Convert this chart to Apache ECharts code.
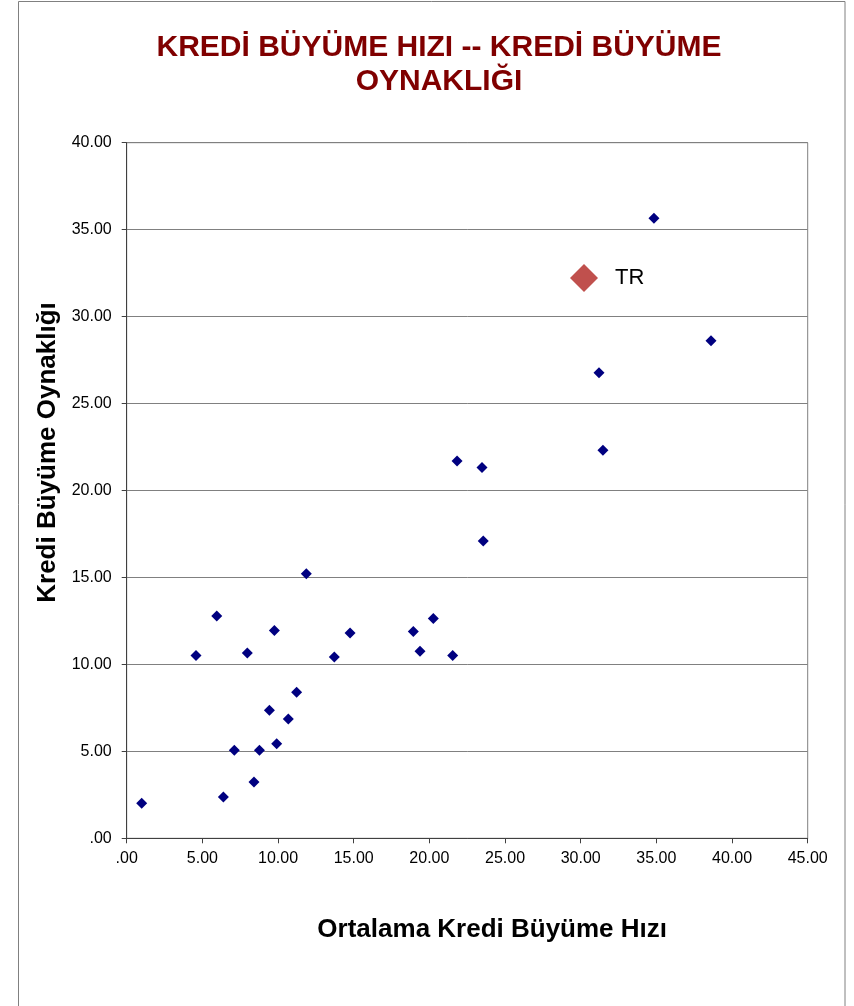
<!DOCTYPE html>
<html>
<head>
<meta charset="utf-8">
<script src="https://cdn.jsdelivr.net/npm/echarts@6/dist/echarts.min.js"></script>
<style>
  html, body { margin: 0; padding: 0; background: #ffffff; }
  #chart { width: 854px; height: 1006px; }
</style>
</head>
<body>
<div id="chart"></div>
<script>
// ---- data ----
const titleText = 'KREDİ BÜYÜME HIZI -- KREDİ BÜYÜME\nOYNAKLIĞI';
const xAxisTitle = 'Ortalama Kredi Büyüme Hızı';
const yAxisTitle = 'Kredi Büyüme Oynaklığı';
const xTickLabels = ['.00', '5.00', '10.00', '15.00', '20.00', '25.00', '30.00', '35.00', '40.00', '45.00'];
const yTickLabels = ['.00', '5.00', '10.00', '15.00', '20.00', '25.00', '30.00', '35.00', '40.00'];

const countryX = [0.99, 4.58, 5.95, 6.39, 7.11, 7.97, 8.41, 8.77, 9.43, 9.76, 9.91, 10.68, 11.23, 11.87,
                  13.72, 14.76, 18.94, 19.38, 20.26, 21.54, 21.83, 23.48, 23.56, 31.21, 31.47, 34.84, 38.61];
const countryY = [2.01, 10.51, 12.79, 2.38, 5.06, 10.66, 3.24, 5.06, 7.36, 11.95, 5.44, 6.86, 8.40, 15.21,
                  10.43, 11.81, 11.89, 10.76, 12.64, 10.51, 21.69, 21.32, 17.09, 26.77, 22.32, 35.65, 28.61];

const trName = 'TR';
const trX = [30.22];
const trY = [32.22];

const countryData = countryX.map((x, i) => [x, countryY[i]]);
const trData = trX.map((x, i) => [x, trY[i], trName]);

const FONT = '"Liberation Sans", Arial, Helvetica, sans-serif';

const chart = echarts.init(document.getElementById('chart'), null, { renderer: 'canvas' });
chart.setOption({
  animation: false,
  backgroundColor: '#ffffff',
  title: {
    text: titleText,
    left: 439,
    top: 31,
    padding: 0,
    textAlign: 'center',
    textStyle: {
      fontFamily: FONT,
      fontSize: 30,
      fontWeight: 'bold',
      color: '#800000',
      lineHeight: 34
    }
  },
  graphic: [
    {
      type: 'rect',
      silent: true,
      z: -10,
      shape: { x: 18.5, y: 1.5, width: 826.5, height: 1020 },
      style: { fill: null, stroke: '#808080', lineWidth: 1 }
    }
  ],
  grid: {
    left: 126.7,
    right: 46.3,
    top: 142.7,
    bottom: 167.7,
    outerBoundsMode: 'none',
    containLabel: false,
    show: true,
    borderColor: '#808080',
    borderWidth: 1,
    backgroundColor: 'transparent'
  },
  xAxis: {
    type: 'value',
    min: 0,
    max: 45,
    interval: 5,
    name: xAxisTitle,
    nameLocation: 'middle',
    nameGap: 79,
    nameTextStyle: {
      fontFamily: FONT,
      fontSize: 26,
      fontWeight: 'bold',
      color: '#000000',
      padding: [0, 0, 0, 50]
    },
    axisLine: { show: true, lineStyle: { color: '#404040', width: 1 } },
    axisTick: { show: true, inside: false, length: 5, lineStyle: { color: '#404040' } },
    axisLabel: {
      margin: 12,
      fontFamily: FONT,
      fontSize: 16,
      color: '#000000',
      formatter: (v) => xTickLabels[Math.round(v / 5)]
    },
    splitLine: { show: false }
  },
  yAxis: {
    type: 'value',
    min: 0,
    max: 40,
    interval: 5,
    name: yAxisTitle,
    nameLocation: 'middle',
    nameGap: 49,
    nameRotate: 90,
    nameTextStyle: {
      fontFamily: FONT,
      fontSize: 26,
      fontWeight: 'bold',
      color: '#000000',
      padding: [0, 0, 0, 76]
    },
    axisLine: { show: true, lineStyle: { color: '#404040', width: 1 } },
    axisTick: { show: true, inside: false, length: 5, lineStyle: { color: '#404040' } },
    axisLabel: {
      margin: 15,
      fontFamily: FONT,
      fontSize: 16,
      color: '#000000',
      formatter: (v) => yTickLabels[Math.round(v / 5)]
    },
    splitLine: { show: true, lineStyle: { color: '#808080', width: 1 } }
  },
  series: [
    {
      name: 'Ülkeler',
      type: 'scatter',
      symbol: 'diamond',
      symbolSize: 11,
      itemStyle: { color: '#000080', opacity: 1 },
      data: countryData
    },
    {
      name: trName,
      type: 'scatter',
      symbol: 'diamond',
      symbolSize: 28,
      itemStyle: { color: '#C0504D', opacity: 1 },
      label: {
        show: true,
        position: 'right',
        distance: 17,
        formatter: (p) => p.data[2],
        fontFamily: FONT,
        fontSize: 22,
        color: '#000000'
      },
      data: trData
    }
  ]
});
</script>
</body>
</html>
